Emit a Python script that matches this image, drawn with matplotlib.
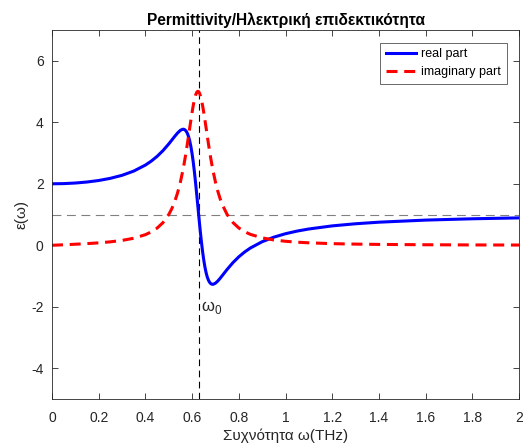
import matplotlib
matplotlib.use("Agg")
import matplotlib.pyplot as plt

# frequency samples (THz) and permittivity read per sample
omega = [0.0, 0.05, 0.1, 0.15, 0.2, 0.25, 0.3, 0.35, 0.4, 0.425, 0.45, 0.475,
         0.5, 0.5125, 0.525, 0.5375, 0.55, 0.56, 0.565, 0.57, 0.575, 0.58,
         0.585, 0.59, 0.595, 0.60, 0.605, 0.61, 0.615, 0.62, 0.624, 0.628,
         0.632, 0.635, 0.64, 0.645, 0.65, 0.655, 0.66, 0.665, 0.67, 0.675,
         0.68, 0.685, 0.69, 0.70, 0.71, 0.72, 0.73, 0.75, 0.775, 0.8, 0.825,
         0.85, 0.9, 0.95, 1.0, 1.05, 1.1, 1.2, 1.3, 1.4, 1.6, 1.8, 2.0]
eps_real = [2.0, 2.006, 2.025, 2.058, 2.107, 2.178, 2.276, 2.413, 2.609, 2.737,
            2.891, 3.077, 3.296, 3.416, 3.537, 3.651, 3.740, 3.775, 3.772,
            3.751, 3.707, 3.636, 3.531, 3.389, 3.204, 2.975, 2.699, 2.379,
            2.023, 1.639, 1.321, 1.0, 0.687, 0.460, 0.106, -0.211, -0.484,
            -0.712, -0.894, -1.034, -1.136, -1.206, -1.248, -1.268, -1.27,
            -1.233, -1.163, -1.075, -0.979, -0.785, -0.564, -0.375, -0.218,
            -0.087, 0.116, 0.264, 0.376, 0.462, 0.530, 0.631, 0.700, 0.751,
            0.819, 0.862, 0.891]
eps_imag = [0.0, 0.016, 0.034, 0.054, 0.079, 0.112, 0.158, 0.229, 0.345, 0.434,
            0.557, 0.735, 1.0, 1.181, 1.41, 1.698, 2.062, 2.418, 2.619, 2.836,
            3.068, 3.313, 3.568, 3.827, 4.083, 4.329, 4.553, 4.743, 4.888,
            4.978, 5.008, 5.0, 4.945, 4.881, 4.733, 4.541, 4.316, 4.070, 3.814,
            3.555, 3.301, 3.057, 2.826, 2.610, 2.409, 2.056, 1.760, 1.515,
            1.311, 1.001, 0.739, 0.563, 0.441, 0.354, 0.241, 0.173, 0.130,
            0.100, 0.080, 0.053, 0.038, 0.028, 0.017, 0.011, 0.008]
omega0 = 0.628
eps_inf = 1.0

plt.rcParams["font.family"] = ["Liberation Sans", "DejaVu Sans"]
plt.rcParams["axes.unicode_minus"] = False
plt.rcParams["mathtext.fontset"] = "custom"
plt.rcParams["mathtext.rm"] = "Liberation Sans"
edge = "#262626"

fig = plt.figure(figsize=(5.23, 4.45), dpi=100)
ax = fig.add_axes([0.0994, 0.1034, 0.893, 0.829])

ax.axhline(eps_inf, color="#808080", lw=0.8, ls=(0, (8, 5)))
ax.axvline(omega0, color="black", lw=0.8, ls=(0, (6, 4)))
ax.plot(omega, eps_real, color="#0000ff", lw=2.2, label="real part")
ax.plot(omega, eps_imag, color="#ff0000", lw=2.2, ls=(0, (3.6, 2.2)),
        label="imaginary part")
ax.text(omega0 + 0.012, -2.15, "ω$_0$", fontsize=12, color=edge,
        va="baseline", ha="left")

ax.set_xlim(0, 2)
ax.set_ylim(-5, 7)
ax.set_xticks([0, 0.2, 0.4, 0.6, 0.8, 1, 1.2, 1.4, 1.6, 1.8, 2])
ax.set_xticklabels(["0", "0.2", "0.4", "0.6", "0.8", "1", "1.2", "1.4",
                    "1.6", "1.8", "2"])
ax.set_yticks([-4, -2, 0, 2, 4, 6])
ax.tick_params(direction="in", top=True, right=True, length=4, width=0.6,
               colors=edge, labelsize=10)
ax.tick_params(axis="x", pad=9)
ax.tick_params(axis="y", pad=6)
for s in ax.spines.values():
    s.set_color(edge)
    s.set_linewidth(0.6)

ax.set_xlabel("Συχνότητα ω(THz)", fontsize=11, color=edge, labelpad=2)
ax.set_ylabel("ε(ω)", fontsize=11, color=edge, labelpad=2)
ax.set_title("Permittivity/Ηλεκτρική επιδεκτικότητα", fontsize=11.2,
             fontweight="bold", color="black", pad=4)

leg = ax.legend(loc="upper right", fontsize=9, frameon=True, fancybox=False,
                edgecolor=edge, borderaxespad=1.0, handlelength=2.4,
                borderpad=0.45, labelspacing=0.5, handletextpad=0.4)
leg.get_frame().set_linewidth(0.6)

fig.savefig("out.png", dpi=100)
